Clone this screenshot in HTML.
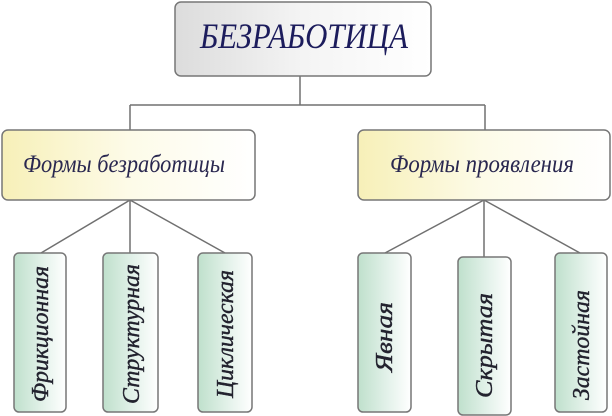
<!DOCTYPE html>
<html><head><meta charset="utf-8"><style>
html,body{margin:0;padding:0;background:#fff;}
svg{display:block;}
text{font-family:"Liberation Serif","DejaVu Serif",serif;font-style:italic;}
</style></head><body>
<svg width="612" height="416" viewBox="0 0 612 416" xmlns="http://www.w3.org/2000/svg">
<defs>
<linearGradient id="gt" x1="0" y1="0" x2="1" y2="0">
<stop offset="0" stop-color="#dcdcdc"/><stop offset="0.5" stop-color="#f4f4f4"/><stop offset="1" stop-color="#ffffff"/>
</linearGradient>
<linearGradient id="gy" x1="0" y1="0" x2="1" y2="0">
<stop offset="0" stop-color="#f7f0b8"/><stop offset="0.5" stop-color="#fdfbe8"/><stop offset="1" stop-color="#ffffff"/>
</linearGradient>
<linearGradient id="gg" x1="0" y1="0" x2="1" y2="0">
<stop offset="0" stop-color="#bfe0cc"/><stop offset="0.6" stop-color="#e6f3ec"/><stop offset="1" stop-color="#ffffff"/>
</linearGradient>
</defs>
<g stroke="#707070" stroke-width="1.5" fill="none">
<line x1="300" y1="76" x2="300" y2="105"/>
<line x1="130" y1="105" x2="485" y2="105"/>
<line x1="130" y1="105" x2="130" y2="130"/>
<line x1="485" y1="105" x2="485" y2="130"/>
<line x1="130" y1="200" x2="41" y2="253"/>
<line x1="130" y1="200" x2="130" y2="253"/>
<line x1="130" y1="200" x2="225" y2="253"/>
<line x1="484" y1="200" x2="385" y2="253"/>
<line x1="484" y1="200" x2="484" y2="257"/>
<line x1="484" y1="200" x2="580" y2="253"/>
</g>
<g stroke="#777" stroke-width="1.5">
<rect x="175" y="2" width="256" height="74" rx="6" fill="url(#gt)"/>
<rect x="2" y="130" width="253" height="70" rx="6" fill="url(#gy)"/>
<rect x="358" y="130" width="252" height="70" rx="6" fill="url(#gy)"/>
<rect x="14" y="253" width="52" height="159" rx="5" fill="url(#gg)"/>
<rect x="103" y="253" width="55" height="159" rx="5" fill="url(#gg)"/>
<rect x="198" y="253" width="54" height="159" rx="5" fill="url(#gg)"/>
<rect x="358" y="253" width="53" height="159" rx="5" fill="url(#gg)"/>
<rect x="458" y="257" width="53" height="158" rx="5" fill="url(#gg)"/>
<rect x="555" y="253" width="52" height="159" rx="5" fill="url(#gg)"/>
</g>
<text x="200" y="48" font-size="36" fill="#1c1c5c" textLength="208" lengthAdjust="spacingAndGlyphs">БЕЗРАБОТИЦА</text>
<text x="23" y="172" font-size="25" fill="#2a2850" textLength="202" lengthAdjust="spacingAndGlyphs">Формы безработицы</text>
<text x="390" y="172" font-size="25" fill="#2a2850" textLength="184" lengthAdjust="spacingAndGlyphs">Формы проявления</text>
<g font-size="24" fill="#22222e" stroke="#22222e" stroke-width="0.4">
<text transform="translate(48,402) rotate(-90)" textLength="136" lengthAdjust="spacingAndGlyphs">Фрикционная</text>
<text transform="translate(139,404) rotate(-90)" textLength="140" lengthAdjust="spacingAndGlyphs">Структурная</text>
<text transform="translate(233,398) rotate(-90)" textLength="128" lengthAdjust="spacingAndGlyphs">Циклическая</text>
<text transform="translate(392,372) rotate(-90)" textLength="70" lengthAdjust="spacingAndGlyphs">Явная</text>
<text transform="translate(492,398) rotate(-90)" textLength="105" lengthAdjust="spacingAndGlyphs">Скрытая</text>
<text transform="translate(589,400) rotate(-90)" textLength="110" lengthAdjust="spacingAndGlyphs">Застойная</text>
</g>
</svg>
</body></html>
